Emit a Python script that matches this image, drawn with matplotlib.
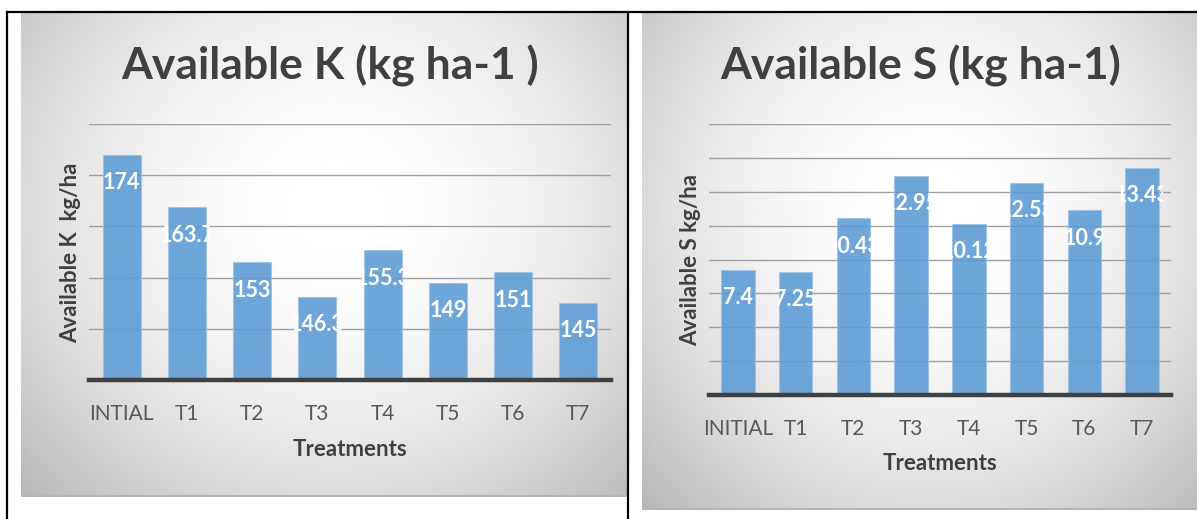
import numpy as np
import matplotlib.pyplot as plt
from matplotlib.lines import Line2D
from matplotlib.transforms import Bbox, TransformedBbox

# data
treat_k = ["INTIAL", "T1", "T2", "T3", "T4", "T5", "T6", "T7"]
avail_k = [174, 163.7, 153, 146.3, 155.3, 149, 151, 145]

treat_s = ["INITIAL", "T1", "T2", "T3", "T4", "T5", "T6", "T7"]
avail_s = [7.4, 7.25, 10.43, 12.95, 10.12, 12.53, 10.9, 13.43]

W, H = 1197, 519
FONT = ["Lato", "DejaVu Sans"]
TXT = "#404040"
BAR = "#5B9BD5"


def px_rect(x0, y0, x1, y1):
    # pixel box (top-left origin) -> figure fraction rect
    return [x0 / W, 1 - y1 / H, (x1 - x0) / W, (y1 - y0) / H]


def gradient_panel(fig, x0, y0, x1, y1):
    ax = fig.add_axes(px_rect(x0, y0, x1, y1), zorder=0)
    ny, nx = 200, 250
    yy, xx = np.mgrid[0:1:ny * 1j, 0:1:nx * 1j]
    r = np.sqrt(((xx - 0.52) / 0.72) ** 2 + ((yy - 0.4) / 0.85) ** 2)
    val = 1.0 - 0.28 * np.clip(r, 0, 1) ** 2.0
    ax.imshow(val, cmap="gray", vmin=0, vmax=1, aspect="auto",
              extent=[0, 1, 1, 0], interpolation="bilinear")
    ax.plot([0, 1], [0.997, 0.997], color="#b5b5b5", lw=1.5)
    ax.set_xlim(0, 1)
    ax.set_ylim(1, 0)
    ax.axis("off")


def bar_chart(fig, rect, cats, vals, ylim, step, title, ylabel,
              title_xy, ylab_xy, xlab_xy):
    ax = fig.add_axes(rect, zorder=2)
    ax.patch.set_alpha(0)
    x = np.arange(len(cats))
    bars = ax.bar(x, vals, width=0.58, color=BAR, alpha=0.88,
                  edgecolor="#9dc3e6", linewidth=0.8, zorder=3)
    ax.set_xlim(-0.5, len(cats) - 0.5)
    ax.set_ylim(*ylim)
    for g in np.arange(ylim[0] + step, ylim[1] + step / 2, step):
        ax.axhline(g, color="#a0a0a0", lw=1.0, zorder=1)
    ax.axhline(ylim[0], color="#404040", lw=3.2, zorder=4, clip_on=False)
    for s in ax.spines.values():
        s.set_visible(False)
    ax.set_yticks([])
    ax.set_xticks(x)
    ax.set_xticklabels(cats, family=FONT, fontsize=15, color="#595959")
    ax.tick_params(axis="x", length=0, pad=17)

    # white labels just inside the bar top, clipped around the bar
    for b, v in zip(bars, vals):
        cx = b.get_x() + b.get_width() / 2
        t = ax.annotate(f"{v:g}", (cx, v), xytext=(0, -20),
                        textcoords="offset points", ha="center", va="center",
                        color="white", fontsize=15.5, fontweight="bold",
                        family=FONT, zorder=5)
        clip = Bbox([[b.get_x() - 0.07, ylim[0]],
                     [b.get_x() + b.get_width() + 0.07, ylim[1]]])
        t.set_clip_box(TransformedBbox(clip, ax.transData))

    fig.text(title_xy[0] / W, 1 - title_xy[1] / H, title, ha="center",
             va="center", fontsize=32, fontweight="bold", color=TXT,
             family=FONT)
    fig.text(ylab_xy[0] / W, 1 - ylab_xy[1] / H, ylabel, ha="center",
             va="center", rotation=90, fontsize=16, fontweight="bold",
             color=TXT, family=FONT)
    fig.text(xlab_xy[0] / W, 1 - xlab_xy[1] / H, "Treatments", ha="center",
             va="center", fontsize=16, fontweight="bold", color=TXT,
             family=FONT)
    return ax


fig = plt.figure(figsize=(W / 100, H / 100), dpi=100)
fig.patch.set_facecolor("white")

gradient_panel(fig, 21, 13, 627, 497)
gradient_panel(fig, 642, 13, 1197, 510)

bar_chart(fig, px_rect(89, 124, 611, 380), treat_k, avail_k, (130, 180), 10,
          "Available K (kg ha-1 )", "Available K  kg/ha",
          (330, 66), (71, 253), (350, 450))
bar_chart(fig, px_rect(709, 124, 1171, 395), treat_s, avail_s, (0, 16), 2,
          "Available S (kg ha-1)", "Available S kg/ha",
          (921, 66), (691, 260), (940, 463))

# document table borders
for xs, ys in [((7, W), (12, 12)), ((7, 7), (12, H)), ((628, 628), (12, H))]:
    fig.add_artist(Line2D([v / W for v in xs], [1 - v / H for v in ys],
                          color="black", lw=1.6, zorder=10))

fig.savefig("out.png", dpi=100)
